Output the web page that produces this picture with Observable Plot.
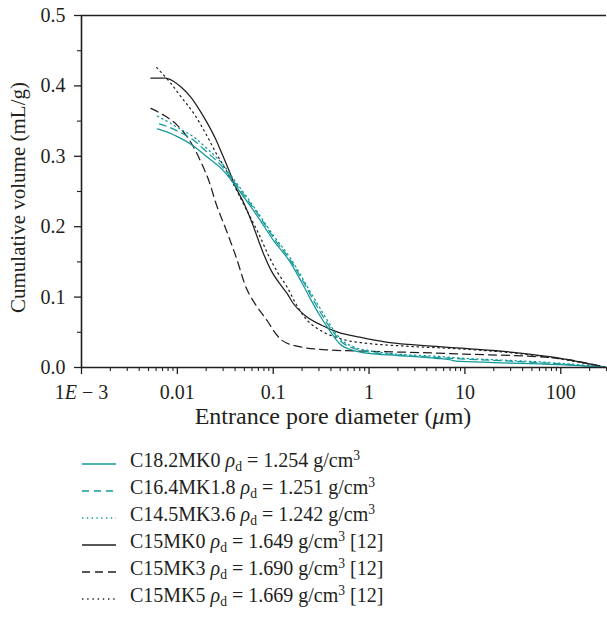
<!DOCTYPE html>
<html>
<head>
<meta charset="utf-8">
<script src="https://cdn.jsdelivr.net/npm/d3@7"></script>
<script src="https://cdn.jsdelivr.net/npm/@observablehq/plot@0.6"></script>
<style>
  body { margin: 0; background: #fff; }
  #wrap { position: relative; width: 607px; height: 618px; font-family: "Liberation Serif", serif; color: #231f20; }
  #legend { position: absolute; top: 447px; left: 82px; font-size: 20px; line-height: 27px; }
  .row { display: flex; align-items: flex-start; height: 27px; white-space: nowrap; }
  .row svg { flex: none; margin-right: 14px; }
  .row sub, .row sup { font-size: 0.68em; line-height: 0; position: relative; vertical-align: baseline; }
  .row sub { top: 0.3em; }
  .row sup { top: -0.55em; }
</style>
</head>
<body>
<div id="wrap"><div id="chart"></div><div id="legend"></div></div>
<script>
// ---- data ----
const seriesNames = ["C18.2MK0", "C16.4MK1.8", "C14.5MK3.6", "C15MK0", "C15MK3", "C15MK5"];
const densities = ["1.254", "1.251", "1.242", "1.649", "1.690", "1.669"];
const refNote = ["", "", "", " [12]", " [12]", " [12]"];

// [pore diameter (µm), cumulative volume (mL/g)]
const c182mk0 = [[0.0062,0.339],[0.008,0.334],[0.01,0.328],[0.015,0.314],[0.02,0.300],[0.03,0.280],[0.04,0.259],[0.05,0.241],[0.07,0.213],[0.1,0.181],[0.15,0.150],[0.2,0.120],[0.25,0.095],[0.3,0.076],[0.4,0.050],[0.5,0.033],[0.7,0.024],[1,0.020],[2,0.017],[5,0.013],[7,0.011],[8,0.009],[20,0.007],[60,0.005],[100,0.004],[300,0.0]];
const c164mk18 = [[0.0065,0.346],[0.008,0.342],[0.01,0.336],[0.015,0.322],[0.02,0.307],[0.03,0.284],[0.04,0.262],[0.05,0.244],[0.07,0.217],[0.1,0.185],[0.15,0.153],[0.2,0.125],[0.25,0.101],[0.3,0.082],[0.4,0.055],[0.5,0.038],[0.7,0.027],[1,0.022],[2,0.018],[10,0.012],[30,0.009],[100,0.005],[300,0.0]];
const c145mk36 = [[0.0062,0.357],[0.008,0.349],[0.01,0.341],[0.015,0.327],[0.02,0.312],[0.03,0.288],[0.04,0.265],[0.05,0.247],[0.07,0.219],[0.1,0.188],[0.15,0.156],[0.2,0.128],[0.25,0.105],[0.3,0.087],[0.4,0.059],[0.5,0.041],[0.7,0.029],[1,0.024],[2,0.019],[5,0.016],[10,0.013],[30,0.010],[100,0.006],[300,0.0]];
const c15mk0 = [[0.0053,0.411],[0.0075,0.411],[0.009,0.407],[0.011,0.398],[0.014,0.383],[0.017,0.366],[0.02,0.350],[0.025,0.325],[0.03,0.300],[0.035,0.278],[0.04,0.258],[0.05,0.232],[0.06,0.206],[0.07,0.181],[0.08,0.160],[0.095,0.138],[0.12,0.117],[0.14,0.105],[0.16,0.092],[0.21,0.075],[0.32,0.060],[0.48,0.050],[0.8,0.043],[1.5,0.036],[3,0.032],[10,0.027],[30,0.022],[80,0.015],[300,0.0]];
const c15mk3 = [[0.0053,0.368],[0.0073,0.358],[0.01,0.344],[0.0138,0.320],[0.0176,0.292],[0.0216,0.263],[0.0253,0.233],[0.0324,0.195],[0.041,0.157],[0.052,0.114],[0.065,0.090],[0.075,0.078],[0.088,0.065],[0.1,0.053],[0.116,0.042],[0.167,0.031],[0.37,0.025],[1,0.023],[2,0.022],[10,0.019],[80,0.014],[300,0.0]];
const c15mk5 = [[0.0061,0.426],[0.0085,0.404],[0.011,0.384],[0.015,0.360],[0.02,0.331],[0.025,0.306],[0.032,0.281],[0.04,0.256],[0.05,0.230],[0.06,0.209],[0.07,0.191],[0.088,0.161],[0.11,0.136],[0.14,0.114],[0.17,0.092],[0.22,0.069],[0.3,0.054],[0.5,0.041],[1,0.034],[2,0.031],[10,0.026],[30,0.021],[80,0.014],[300,0.0]];

const xTickValues = [0.001, 0.01, 0.1, 1, 10, 100];
const xTickLabels = ["1E − 3", "0.01", "0.1", "1", "10", "100"];
const yTickValues = [0, 0.1, 0.2, 0.3, 0.4, 0.5];
const yTickLabels = ["0.0", "0.1", "0.2", "0.3", "0.4", "0.5"];
const xTitle = "Entrance pore diameter (μm)";
const yTitle = "Cumulative volume (mL/g)";

// ---- styles ----
const teal = "#14999a";
const ink = "#231f20";
const seriesData = [c182mk0, c164mk18, c145mk36, c15mk0, c15mk3, c15mk5];
const seriesColor = [teal, teal, teal, ink, ink, ink];
const seriesDash = [null, "7,5", "1.4,3.4", null, "8,5", "1.4,3.8"];

const rows = seriesData.flatMap((arr, i) => arr.map(([d, v]) => ({series: seriesNames[i], d, v})));

const xMinor = [];
for (let e = -3; e <= 2; e++) for (let m = 2; m <= 9; m++) { const t = m * Math.pow(10, e); if (t <= 300.0001) xMinor.push(+t.toPrecision(3)); }
const yMinor = [0.05, 0.15, 0.25, 0.35, 0.45];

const drawOrder = [3, 4, 5, 0, 1, 2];
const lineMarks = drawOrder.map(i => Plot.line(rows.filter(r => r.series === seriesNames[i]), {
  x: "d", y: "v", stroke: seriesColor[i], strokeWidth: 1.25,
  strokeDasharray: seriesDash[i], curve: "monotone-x"
}));

const chart = Plot.plot({
  width: 607, height: 440,
  marginLeft: 81, marginRight: 1, marginTop: 15, marginBottom: 73,
  style: {fontFamily: "Liberation Serif, serif", fontSize: "20px", color: ink, background: "white", overflow: "visible"},
  x: {type: "log", domain: [0.001, 300]},
  y: {domain: [0, 0.5]},
  marks: [
    ...lineMarks,
    Plot.axisX({ticks: xTickValues, tickFormat: d => xTickLabels[xTickValues.indexOf(d)], tickSize: 7, tickPadding: 10, strokeWidth: 1.3, label: null}),
    Plot.axisX({ticks: xMinor, tickSize: 4, strokeWidth: 1.1, fill: "none", label: null}),
    Plot.axisY({ticks: yTickValues, tickFormat: d => yTickLabels[yTickValues.indexOf(d)], tickSize: 7, tickPadding: 9, strokeWidth: 1.3, label: null}),
    Plot.axisY({ticks: yMinor, tickSize: 4, strokeWidth: 1.1, fill: "none", label: null}),
    Plot.ruleY([0], {stroke: ink, strokeWidth: 1.6}),
    Plot.ruleY([0.5], {stroke: ink, strokeWidth: 1.6}),
    Plot.ruleX([0.001], {stroke: ink, strokeWidth: 1.6}),
    Plot.text([xTitle], {frameAnchor: "bottom", textAnchor: "middle", dx: -11, dy: 56, fontSize: 24, fill: ink}),
    Plot.text([yTitle], {frameAnchor: "left", textAnchor: "middle", dx: -63, dy: 6, rotate: -90, fontSize: 21, fill: ink})
  ]
});
document.getElementById("chart").appendChild(chart);

// italic letters as in the reference
d3.select(chart).selectAll("text").each(function() {
  const t = this.textContent;
  if (t === "1E − 3") {
    const s = d3.select(this); s.text(null);
    s.append("tspan").text("1");
    s.append("tspan").attr("font-style", "italic").text("E");
    s.append("tspan").text(" − 3");
  } else if (t === xTitle) {
    const s = d3.select(this); s.text(null);
    s.append("tspan").text("Entrance pore diameter (");
    s.append("tspan").attr("font-style", "italic").text("μ");
    s.append("tspan").text("m)");
  }
});

// legend
const legend = d3.select("#legend");
seriesNames.forEach((name, i) => {
  const row = legend.append("div").attr("class", "row");
  const sv = row.append("svg").attr("width", 34).attr("height", 27);
  sv.append("line").attr("x1", 0).attr("x2", 34).attr("y1", 17).attr("y2", 17)
    .attr("stroke", seriesColor[i]).attr("stroke-width", 1.4)
    .attr("stroke-dasharray", seriesDash[i]);
  const tx = row.append("span");
  tx.append("span").text(name + " ");
  tx.append("i").text("ρ");
  tx.append("sub").text("d");
  tx.append("span").text(" = " + densities[i] + " g/cm");
  tx.append("sup").text("3");
  if (refNote[i]) tx.append("span").text(refNote[i]);
});
</script>
</body>
</html>
